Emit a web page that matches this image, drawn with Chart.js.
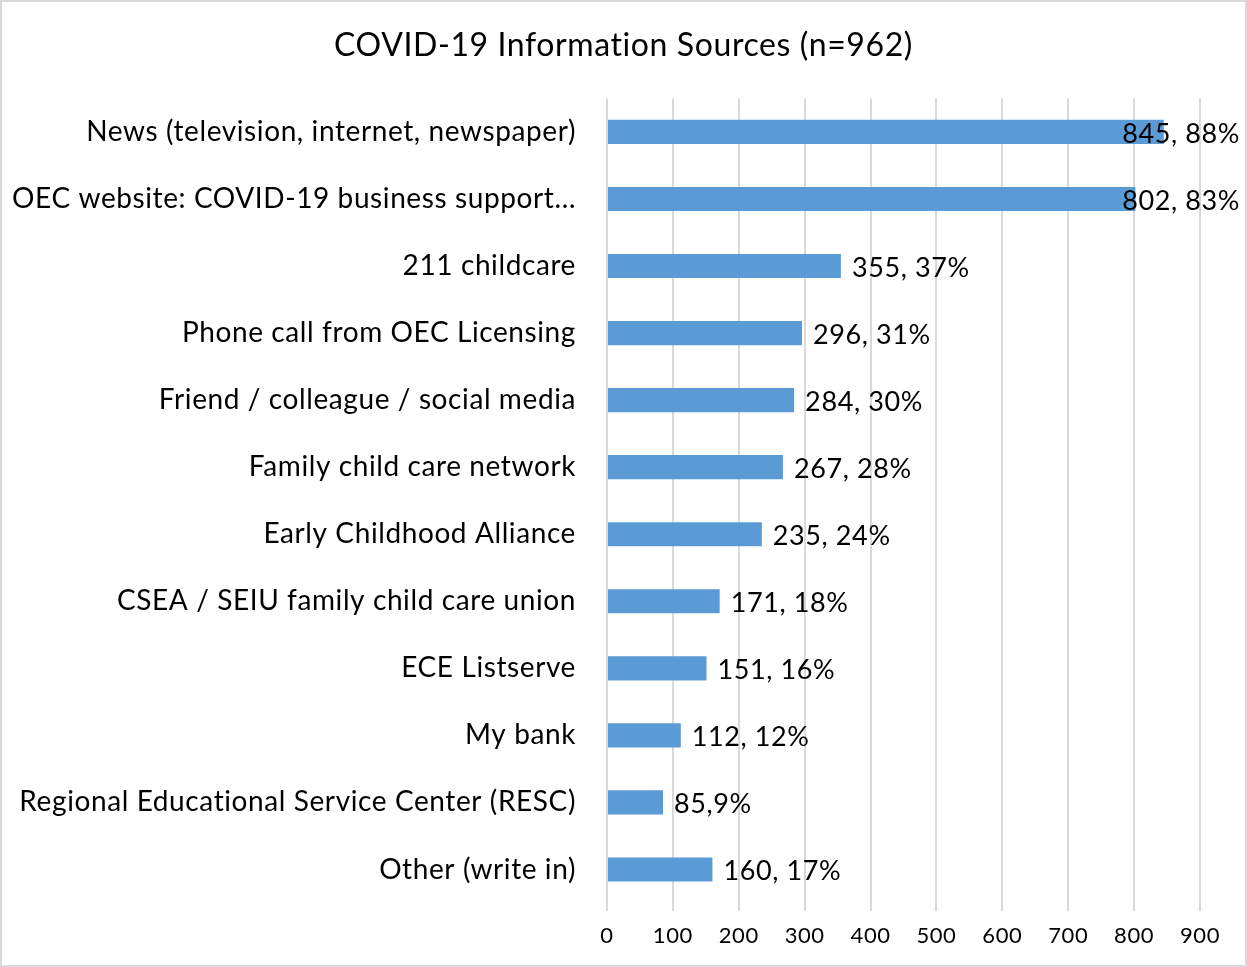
<!DOCTYPE html>
<html>
<head>
<meta charset="utf-8">
<script src="https://cdn.jsdelivr.net/npm/chart.js@4"></script>
<style>
  html, body { margin: 0; padding: 0; background: #fff; }
  #wrap { width: 1247px; height: 967px; }
</style>
</head>
<body>
<div id="wrap"><canvas id="barChart" width="1247" height="967"></canvas></div>
<script>
var sources = [
  "News (television, internet, newspaper)",
  "OEC website: COVID-19 business support\u2026",
  "211 childcare",
  "Phone call from OEC Licensing",
  "Friend / colleague / social media",
  "Family child care network",
  "Early Childhood Alliance",
  "CSEA / SEIU family child care union",
  "ECE Listserve",
  "My bank",
  "Regional Educational Service Center (RESC)",
  "Other (write in)"
];
var responses = [845, 802, 355, 296, 284, 267, 235, 171, 151, 112, 85, 160];
var percents = [88, 83, 37, 31, 30, 28, 24, 18, 16, 12, 9, 17];
var separators = [", ", ", ", ", ", ", ", ", ", ", ", ", ", ", ", ", ", ", ", ",", ", "];
var xTicks = [0, 100, 200, 300, 400, 500, 600, 700, 800, 900];

var FONT = "Lato, 'Open Sans', sans-serif";
var SPACING = "0.6px";

// a little letter spacing everywhere (also keeps Lato from joining "ti")
var spacingPlugin = {
  id: "spacing",
  beforeLayout: function (chart) { chart.ctx.letterSpacing = SPACING; },
  beforeDraw: function (chart) { chart.ctx.letterSpacing = SPACING; }
};

// white background and thin frame round the whole chart
var framePlugin = {
  id: "frame",
  beforeDraw: function (chart) {
    var c = chart.ctx;
    c.save();
    c.fillStyle = "#ffffff";
    c.fillRect(0, 0, chart.width, chart.height);
    c.strokeStyle = "#d9d9d9";
    c.lineWidth = 2;
    c.strokeRect(1, 1, chart.width - 2, chart.height - 2);
    c.restore();
  }
};

// "value, pct%" after each bar, pushed back inside the frame when it runs out
var valueLabels = {
  id: "valueLabels",
  afterDatasetsDraw: function (chart) {
    var c = chart.ctx;
    var meta = chart.getDatasetMeta(0);
    c.save();
    c.letterSpacing = SPACING;
    c.font = "27px " + FONT;
    c.fillStyle = "#000";
    c.textBaseline = "middle";
    c.textAlign = "left";
    meta.data.forEach(function (bar, i) {
      var text = responses[i] + separators[i] + percents[i] + "%";
      var w = c.measureText(text).width;
      var x = bar.x + 11;
      if (x + w > chart.width - 7) x = chart.width - 7 - w;
      c.fillText(text, x, bar.y + 2);
    });
    c.restore();
  }
};

var ctx = document.getElementById("barChart");
var chart = new Chart(ctx, {
  type: "bar",
  data: {
    labels: sources,
    datasets: [{
      label: "Responses",
      data: responses,
      backgroundColor: "#5b9bd5",
      borderWidth: 0,
      barPercentage: 0.72,
      categoryPercentage: 0.5
    }]
  },
  options: {
    indexAxis: "y",
    responsive: false,
    animation: false,
    layout: { padding: 0 },
    plugins: {
      legend: { display: false },
      tooltip: { enabled: false },
      title: {
        display: true,
        text: "COVID-19 Information Sources (n=962)",
        color: "#000",
        font: { family: FONT, size: 32, weight: "normal", lineHeight: 1.2 },
        padding: { top: 26, bottom: 34 }
      }
    },
    scales: {
      x: {
        min: 0,
        max: 900,
        afterBuildTicks: function (scale) {
          scale.ticks = xTicks.map(function (v) { return { value: v }; });
        },
        afterFit: function (scale) { scale.height = 64; },
        grid: { color: "#d9d9d9", lineWidth: 2, tickLength: 8, drawTicks: true },
        border: { display: false },
        ticks: { color: "#000", padding: 12, font: { family: FONT, size: 22 } }
      },
      y: {
        afterFit: function (scale) { scale.width = 607; },
        grid: { display: false },
        border: { display: false },
        ticks: { color: "#000", padding: 23, font: { family: FONT, size: 28 } }
      },
      // empty strip on the right where the long value labels sit
      yRight: {
        type: "linear",
        position: "right",
        afterFit: function (scale) { scale.width = 47; },
        grid: { display: false },
        border: { display: false },
        ticks: { display: false }
      }
    }
  },
  plugins: [spacingPlugin, framePlugin, valueLabels]
});
</script>
</body>
</html>
